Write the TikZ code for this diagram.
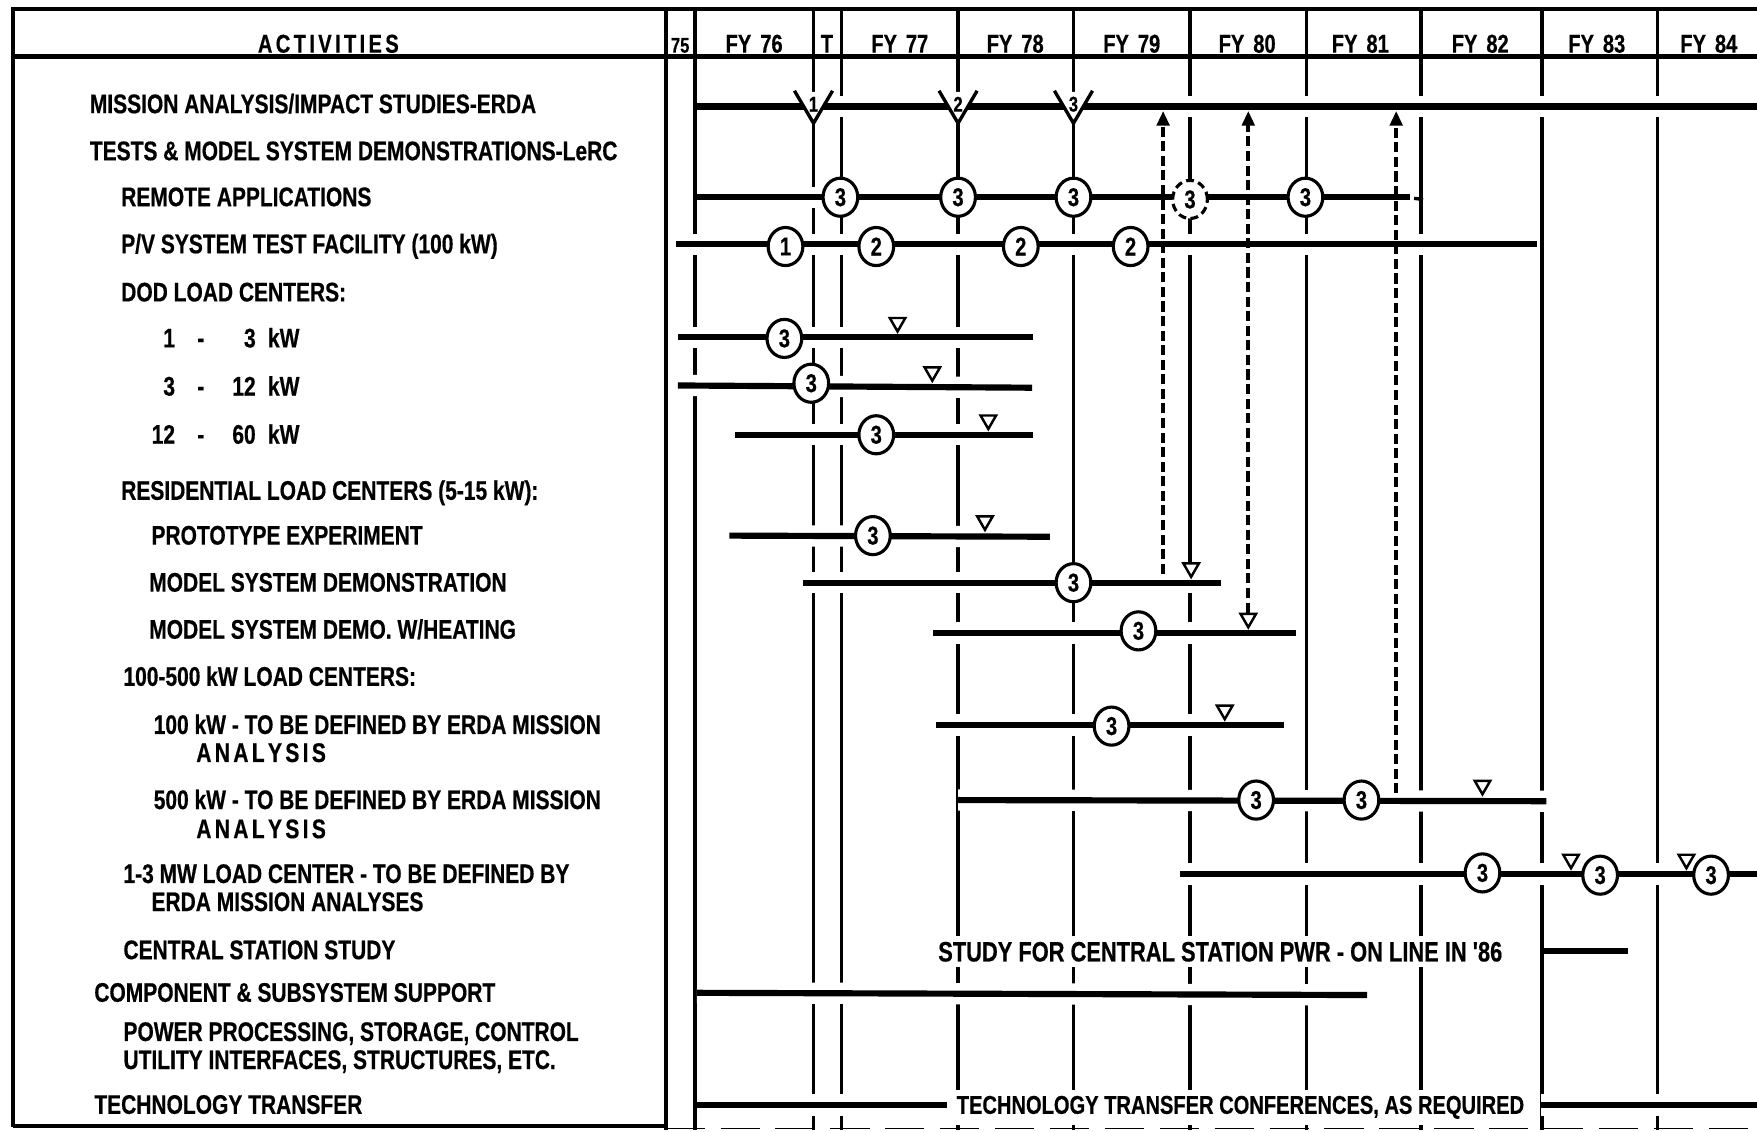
\documentclass[tikz,border=0pt]{standalone}
\usepackage{fontspec}
\newfontfamily\cf{Liberation Sans Bold}[FakeStretch=0.78, FakeBold=0.5]
\usetikzlibrary{arrows.meta,shapes.geometric}
\newcommand\lsp{\kern3pt}
\newcommand\vmile[3]{%
  \fill[white] ({#2-17},82) -- ({#2+17},82) -- (#2,111) -- cycle;
  \draw[line width=3pt] ({#2-17},81) -- (#2,110) -- ({#2+17},81);
  \node[vnum] (#1) at (#2,93) {#3};}
\begin{document}
\begin{tikzpicture}[x=1pt,y=-1pt,
  lbl/.style={anchor=base west, inner sep=0pt, font=\cf\fontsize{24}{28}\selectfont},
  clbl/.style={anchor=base, inner sep=5pt, fill=white, font=\cf\fontsize{25}{28}\selectfont},
  hdr/.style={anchor=base, inner sep=0pt, font=\cf\fontsize{23}{26}\selectfont},
  bar/.style={line width=5.5pt, preaction={draw=white, line width=19pt}},
  vline/.style={line width=3.2pt},
  ms/.style={ellipse, draw, line width=2.8pt, fill=white, minimum width=31pt, minimum height=34pt, inner sep=0pt, font=\cf\fontsize{23}{23}\selectfont},
  vnum/.style={inner sep=0pt, font=\cf\fontsize{19}{19}\selectfont},
  tri/.style={regular polygon, regular polygon sides=3, shape border rotate=180, draw, line width=2.2pt, fill=white, minimum size=16pt, inner sep=0pt, anchor=corner 1},
  darrow/.style={line width=3.8pt, dash pattern=on 9pt off 4pt, -{Triangle[width=11pt,length=13pt]}},
]
\useasboundingbox (0,0) rectangle (1568,1010);
\fill[white] (0,0) rectangle (1568,1010);
\begin{scope}
\clip (0,0) rectangle (1568,1010);

% vertical column lines
\foreach \x in {726,751,855,958,1062,1166,1268,1376,1479}
  \draw[vline] (\x,8) -- (\x,1008);
\draw[line width=3.6pt] (594,8) -- (594,1008);
\draw[vline] (620,8) -- (620,1008);

% bars
\draw[bar, line width=6pt] (622,95) -- (1568,95);
\draw[bar] (622,176) -- (1258,176);
\draw[line width=3pt] (1262,177) -- (1270,178);
\draw[bar] (603,218) -- (1372,218);
\draw[bar] (605,301) -- (922,301);
\draw[bar] (605,344) -- (921,346);
\draw[bar] (656,388) -- (922,388);
\draw[bar] (651,478) -- (937,479);
\draw[bar] (717,520) -- (1090,520);
\draw[bar] (833,565) -- (1157,565);
\draw[bar] (835,647) -- (1146,647);
\draw[bar] (855,714) -- (1380,715);
\draw[bar] (1053,780) -- (1568,780);
\draw[bar] (1378,849) -- (1453,849);
\draw[bar] (622,886) -- (1220,888);
\draw[bar] (622,986) -- (845,986);
\draw[bar] (1375,986) -- (1568,986);

% mission analysis milestones
\vmile{v1}{726}{1}
\vmile{v2}{855}{2}
\vmile{v3}{958}{3}

% circles
\node[ms] (ra1) at (750,176) {3};
\node[ms] (ra2) at (855,176) {3};
\node[ms] (ra3) at (958,176) {3};
\node[ms, dash pattern=on 7pt off 4pt] (ra4) at (1062,178) {3};
\node[ms] (ra5) at (1165,176) {3};
\node[ms] (pv1) at (701,220) {1};
\node[ms] (pv2) at (782,220) {2};
\node[ms] (pv3) at (911,220) {2};
\node[ms] (pv4) at (1009,220) {2};
\node[ms] (d1) at (700,302) {3};
\node[ms] (d2) at (724,342) {3};
\node[ms] (d3) at (782,388) {3};
\node[ms] (pe) at (779,478) {3};
\node[ms] (md) at (958,520) {3};
\node[ms] (mh) at (1016,563) {3};
\node[ms] (h1) at (992,648) {3};
\node[ms] (f1) at (1121,714) {3};
\node[ms] (f2) at (1215,714) {3};
\node[ms] (m1) at (1323,779) {3};
\node[ms] (m2) at (1428,781) {3};
\node[ms] (m3) at (1527,781) {3};

% small completion triangles
\node[tri] (t1) at (801,298) {};
\node[tri] (t2) at (832,342) {};
\node[tri] (t3) at (882,385) {};
\node[tri] (t4) at (879,475) {};
\node[tri] (t5) at (1063,517) {};
\node[tri] (t6) at (1114,562) {};
\node[tri] (t7) at (1093,644) {};
\node[tri] (t8) at (1323,711) {};
\node[tri] (t9) at (1402,777) {};
\node[tri] (t10) at (1505,777) {};

% dashed feedback arrows to mission analysis
\coordinate (a1s) at (1038,512);
\coordinate (a1e) at (1038,99);
\coordinate (a2e) at (1114,99);
\coordinate (a3s) at (1246,708);
\coordinate (a3e) at (1246,99);
\draw[darrow] (a1s) -- (a1e);
\draw[darrow] (t6.north) -- (a2e);
\draw[darrow] (a3s) -- (a3e);

% chart texts
\node[clbl] (cs) at (1089,858) {STUDY FOR CENTRAL STATION PWR - ON LINE IN '86};
\node[clbl, font=\cf\fontsize{23}{26}\selectfont] (tt) at (1107,994) {TECHNOLOGY TRANSFER CONFERENCES, AS REQUIRED};

% frame
\draw[line width=3pt] (12,8) -- (1568,8);
\draw[line width=4.5pt] (12,50) -- (1568,50);
\draw[line width=3.6pt] (12,6.5) -- (12,1006);
\draw[line width=3pt] (12,1005) -- (594,1005);
\draw[line width=1.6pt, dash pattern=on 35pt off 14pt] (594,1007) -- (1568,1007);

% header
\node[hdr] (hact) at (293,47) {A\lsp C\lsp T\lsp I\lsp V\lsp I\lsp T\lsp I\lsp E\lsp S};
\node[hdr, font=\cf\fontsize{19}{20}\selectfont] (h75) at (607,47) {75};
\node[hdr] (h76) at (673,47) {FY\kern8pt 76};
\node[hdr] (hT) at (738,47) {T};
\node[hdr] (h77) at (803,47) {FY\kern8pt 77};
\node[hdr] (h78) at (906,47) {FY\kern8pt 78};
\node[hdr] (h79) at (1010,47) {FY\kern8pt 79};
\node[hdr] (h80) at (1113,47) {FY\kern8pt 80};
\node[hdr] (h81) at (1214,47) {FY\kern8pt 81};
\node[hdr] (h82) at (1321,47) {FY\kern8pt 82};
\node[hdr] (h83) at (1425,47) {FY\kern8pt 83};
\node[hdr] (h84) at (1525,47) {FY\kern8pt 84};

% activities
\node[lbl] (l1) at (80,101) {MISSION ANALYSIS/IMPACT STUDIES-ERDA};
\node[lbl] (l2) at (80,143) {TESTS \& MODEL SYSTEM DEMONSTRATIONS-LeRC};
\node[lbl] (l3) at (108,184) {REMOTE APPLICATIONS};
\node[lbl] (l4) at (108,226) {P/V SYSTEM TEST FACILITY (100 kW)};
\node[lbl] (l5) at (108,269) {DOD LOAD CENTERS:};
\node[lbl] (l6) at (135,310) {\makebox[21pt][r]{1}\makebox[46pt][c]{-}\makebox[26pt][r]{3}\kern11pt kW};
\node[lbl] (l7) at (135,353) {\makebox[21pt][r]{3}\makebox[46pt][c]{-}\makebox[26pt][r]{12}\kern11pt kW};
\node[lbl] (l8) at (135,396) {\makebox[21pt][r]{12}\makebox[46pt][c]{-}\makebox[26pt][r]{60}\kern11pt kW};
\node[lbl] (l9) at (108,446) {RESIDENTIAL LOAD CENTERS (5-15 kW):};
\node[lbl] (l10) at (135,486) {PROTOTYPE EXPERIMENT};
\node[lbl] (l11) at (133,528) {MODEL SYSTEM DEMONSTRATION};
\node[lbl] (l12) at (133,570) {MODEL SYSTEM DEMO. W/HEATING};
\node[lbl] (l13) at (110,612) {100-500 kW LOAD CENTERS:};
\node[lbl] (l14) at (137,655) {100 kW - TO BE DEFINED BY ERDA MISSION};
\node[lbl] (l14b) at (175,680) {A\lsp N\lsp A\lsp L\lsp Y\lsp S\lsp I\lsp S};
\node[lbl] (l15) at (137,722) {500 kW - TO BE DEFINED BY ERDA MISSION};
\node[lbl] (l15b) at (175,748) {A\lsp N\lsp A\lsp L\lsp Y\lsp S\lsp I\lsp S};
\node[lbl] (l16) at (110,788) {1-3 MW LOAD CENTER - TO BE DEFINED BY};
\node[lbl] (l16b) at (135,813) {ERDA MISSION ANALYSES};
\node[lbl] (l17) at (110,856) {CENTRAL STATION STUDY};
\node[lbl] (l18) at (84,894) {COMPONENT \& SUBSYSTEM SUPPORT};
\node[lbl] (l19) at (110,929) {POWER PROCESSING, STORAGE, CONTROL};
\node[lbl] (l19b) at (110,954) {UTILITY INTERFACES, STRUCTURES, ETC.};
\node[lbl] (l20) at (84,994) {TECHNOLOGY TRANSFER};
\end{scope}
\end{tikzpicture}
\end{document}
